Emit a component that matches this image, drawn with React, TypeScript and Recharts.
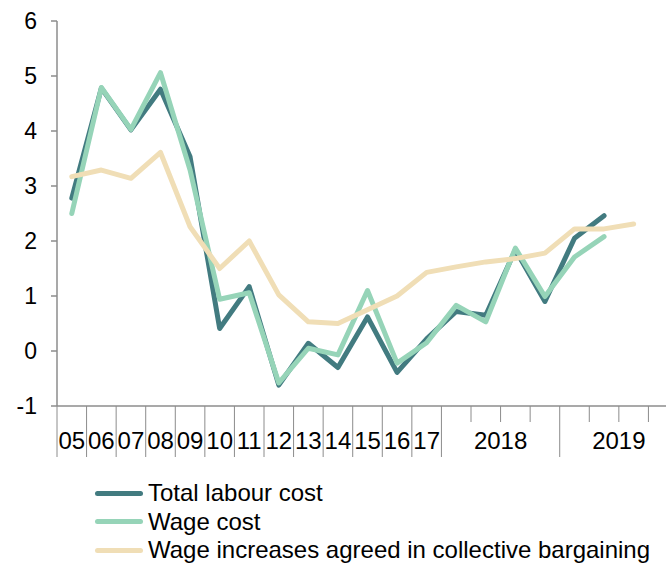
import React from "react";
import { LineChart, Line, XAxis, YAxis, Legend } from "recharts";

// categories: annual 2005-2017, then quarters of 2018 and 2019
const periods = [
  "05", "06", "07", "08", "09", "10", "11", "12", "13", "14", "15", "16", "17",
  "2018Q1", "2018Q2", "2018Q3", "2018Q4",
  "2019Q1", "2019Q2", "2019Q3", "2019Q4",
];
const yearLabels = ["05", "06", "07", "08", "09", "10", "11", "12", "13", "14", "15", "16", "17"];

const totalLabourCost = [
  2.78, 4.78, 4.02, 4.76, 3.53, 0.41, 1.17, -0.62, 0.14, -0.3, 0.62, -0.39, 0.22,
  0.72, 0.65, 1.84, 0.9, 2.05, 2.46, null, null,
];
const wageCost = [
  2.5, 4.79, 4.03, 5.06, 3.29, 0.94, 1.06, -0.58, 0.05, -0.07, 1.1, -0.22, 0.15,
  0.83, 0.53, 1.87, 0.99, 1.71, 2.08, null, null,
];
const wageIncreases = [
  3.17, 3.29, 3.14, 3.61, 2.26, 1.5, 2.0, 1.02, 0.53, 0.5, 0.75, 1.0, 1.43,
  1.53, 1.62, 1.68, 1.78, 2.22, 2.22, 2.31, null,
];

const yTicks = [-1, 0, 1, 2, 3, 4, 5, 6];
const xBoundaries = periods.map((_, i) => i).concat(periods.length);

const FONT = '"Liberation Sans", Arial, sans-serif';
const AXIS = "#8c8c8c";
const C_TOTAL = "#427b80";
const C_WAGE = "#96d4b8";
const C_AGREED = "#f0deb6";

const CHART_W = 700;
const CHART_H = 566;
const MARGIN = { top: 21, right: 22, left: 0, bottom: 100 };
const Y_W = 57;
const CAT_W = (CHART_W - MARGIN.left - MARGIN.right - Y_W) / periods.length;

const data = periods.map((p, i) => ({
  x: i + 0.5,
  period: p,
  total: totalLabourCost[i],
  wage: wageCost[i],
  agreed: wageIncreases[i],
}));

function XTick(props: any) {
  const { x, y, payload } = props;
  const v: number = payload.value;
  const long = v <= 13 || v === 17 || v === 21;
  let label: string | null = null;
  let lx = x;
  if (v < yearLabels.length) {
    label = yearLabels[v];
    lx = x + CAT_W / 2;
  } else if (v === 15) {
    label = "2018";
  } else if (v === 19) {
    label = "2019";
  }
  return (
    <g>
      <line x1={x} x2={x} y1={y} y2={y + (long ? 51 : 16)} stroke={AXIS} strokeWidth={1} />
      {label && (
        <text x={lx} y={y + 43} textAnchor="middle" fontSize={24} fontFamily={FONT} fill="#000">
          {label}
        </text>
      )}
    </g>
  );
}

function LegendContent(props: any) {
  const { payload } = props;
  return (
    <div style={{ fontFamily: FONT, fontSize: 24, lineHeight: "28.5px", color: "#000" }}>
      {payload.map((entry: any) => (
        <div key={entry.value} style={{ display: "flex", alignItems: "center", whiteSpace: "nowrap" }}>
          <span
            style={{
              display: "inline-block",
              width: 48,
              height: 5,
              borderRadius: 3,
              background: entry.color,
              marginRight: 5,
            }}
          />
          {entry.value}
        </div>
      ))}
    </div>
  );
}

export default function App() {
  return (
    <div
      style={{
        position: "absolute",
        left: 0,
        top: 0,
        width: 666,
        height: 566,
        overflow: "hidden",
        background: "#fff",
      }}
    >
      <LineChart width={CHART_W} height={CHART_H} data={data} margin={MARGIN}>
        <XAxis
          dataKey="x"
          type="number"
          domain={[0, periods.length]}
          ticks={xBoundaries}
          interval={0}
          tickSize={0}
          tickMargin={0}
          tickLine={false}
          axisLine={{ stroke: AXIS, strokeWidth: 1.5 }}
          tick={<XTick />}
          height={60}
        />
        <YAxis
          domain={[-1, 6]}
          ticks={yTicks}
          interval={0}
          width={Y_W}
          tickSize={6}
          tickMargin={14}
          axisLine={{ stroke: AXIS, strokeWidth: 1.5 }}
          tickLine={{ stroke: AXIS, strokeWidth: 1.5 }}
          tick={{ fontSize: 23, fontFamily: FONT, fill: "#000" }}
        />
        <Legend
          layout="horizontal"
          verticalAlign="middle"
          align="center"
          content={<LegendContent />}
          wrapperStyle={{ left: 95, top: 479, width: 600 }}
        />
        <Line
          dataKey="total"
          name="Total labour cost"
          stroke={C_TOTAL}
          strokeWidth={5}
          strokeLinecap="round"
          strokeLinejoin="round"
          dot={false}
          isAnimationActive={false}
        />
        <Line
          dataKey="wage"
          name="Wage cost"
          stroke={C_WAGE}
          strokeWidth={5}
          strokeLinecap="round"
          strokeLinejoin="round"
          dot={false}
          isAnimationActive={false}
        />
        <Line
          dataKey="agreed"
          name="Wage increases agreed in collective bargaining"
          stroke={C_AGREED}
          strokeWidth={5}
          strokeLinecap="round"
          strokeLinejoin="round"
          dot={false}
          isAnimationActive={false}
        />
      </LineChart>
    </div>
  );
}
